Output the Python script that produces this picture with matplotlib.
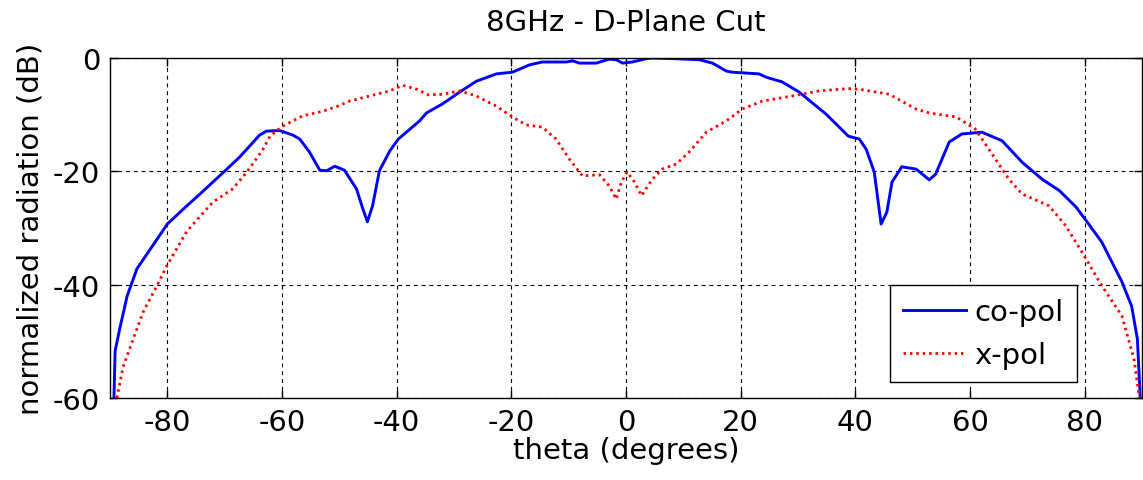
import numpy as np
import matplotlib
matplotlib.use('Agg')
import matplotlib.pyplot as plt

plt.rcParams['font.family'] = ['DejaVu Sans']
plt.rcParams['axes.unicode_minus'] = False

#! co-pol pattern (theta in degrees, level in dB)
theta_co = [-89.3, -89.1, -88.3, -87.0, -85.3, -81.8, -80.0, -76.6, -74.3, -69.6,
            -67.4, -63.9, -62.7, -60.4, -58.1, -56.9, -55.2, -53.4, -52.2, -50.8,
            -49.1, -47.0, -45.9, -45.1, -44.2, -43.0, -41.2, -39.7, -36.0, -34.8,
            -32.0, -29.0, -26.1, -22.6, -19.8, -16.8, -14.6, -10.4, -9.3, -8.1,
            -5.2, -2.9, -1.7, -0.6, 1.1, 3.6, 4.6, 8.1, 12.8, 15.1,
            17.5, 18.5, 23.2, 24.5, 27.2, 30.2, 34.9, 38.8, 40.7, 41.9,
            43.3, 44.5, 45.5, 46.4, 48.1, 50.6, 52.9, 54.0, 56.4, 58.6,
            62.1, 65.6, 69.1, 72.6, 75.6, 78.5, 80.7, 83.0, 86.5, 88.2,
            89.2, 89.7]
co_pol = [-60.0, -51.7, -47.8, -42.0, -37.2, -32.0, -29.3, -26.1, -24.0, -19.6,
          -17.5, -13.6, -12.9, -12.8, -13.6, -14.3, -16.6, -19.8, -19.9, -19.1,
          -19.8, -23.1, -26.6, -28.9, -26.1, -19.9, -16.4, -14.3, -11.1, -9.7,
          -8.1, -6.0, -4.1, -2.8, -2.5, -1.2, -0.7, -0.7, -0.5, -0.9,
          -0.9, -0.2, -0.3, -0.9, -0.7, -0.1, 0.0, -0.1, -0.3, -0.9,
          -2.3, -2.5, -2.8, -3.4, -4.2, -6.0, -9.9, -13.8, -14.3, -16.1,
          -20.1, -29.3, -27.2, -21.9, -19.2, -19.6, -21.5, -20.5, -14.8, -13.4,
          -13.1, -14.6, -18.4, -21.4, -23.4, -26.3, -29.3, -32.5, -39.5, -43.8,
          -49.6, -60.0]

#! x-pol pattern
theta_x = [-88.8, -87.7, -85.3, -84.2, -81.8, -80.1, -76.6, -73.1, -72.0, -68.6,
           -66.1, -63.3, -62.1, -60.0, -56.4, -52.9, -50.5, -48.2, -44.7, -41.2,
           -39.0, -36.5, -34.5, -32.0, -29.0, -26.1, -22.6, -19.8, -17.4, -14.6,
           -12.2, -9.9, -7.6, -4.6, -2.9, -1.7, -0.8, 0.2, 1.5, 2.7,
           4.6, 6.3, 8.8, 11.0, 14.0, 17.5, 20.3, 23.8, 29.0, 33.7,
           38.8, 40.7, 45.9, 50.6, 52.9, 57.6, 60.9, 63.3, 66.8, 69.1,
           73.8, 76.7, 79.5, 83.0, 86.5, 88.6, 89.4, 89.6]
x_pol = [-60.0, -54.5, -47.8, -44.8, -40.2, -36.7, -30.6, -26.6, -25.4, -23.1,
         -20.1, -16.1, -13.8, -12.1, -10.2, -9.4, -8.6, -7.6, -6.7, -5.8,
         -4.8, -5.5, -6.5, -6.4, -5.8, -6.7, -8.5, -10.4, -11.8, -12.2,
         -14.3, -17.8, -20.8, -20.6, -22.6, -24.9, -21.9, -20.1, -21.9, -24.3,
         -21.4, -19.6, -18.7, -16.6, -13.1, -11.1, -9.0, -7.6, -6.7, -5.8,
         -5.4, -5.5, -6.4, -9.0, -9.7, -10.4, -12.5, -16.1, -21.4, -24.0,
         -26.1, -29.6, -34.2, -40.2, -45.5, -53.1, -58.9, -60.0]

xticks = [-80, -60, -40, -20, 0, 20, 40, 60, 80]
yticks = [-60, -40, -20, 0]

FS = 21

fig = plt.figure(figsize=(11.43, 4.81), dpi=100)
ax = fig.add_axes([0.0962, 0.1705, 0.9029, 0.7068])

ax.plot(theta_co, co_pol, color='#0000ff', lw=2.1, label='co-pol')
ax.plot(theta_x, x_pol, color='#ff0000', lw=2.0, ls=(0, (0.9, 1.4)), label='x-pol')

ax.set_xlim(-90, 90)
ax.set_ylim(-60, 0)
ax.set_xticks(xticks)
ax.set_yticks(yticks)
ax.tick_params(direction='in', length=6, width=1, labelsize=FS, top=True, right=True, pad=7)
ax.grid(True, color='black', ls=(0, (3.5, 3.5)), lw=0.8)
for s in ax.spines.values():
    s.set_linewidth(1.0)

ax.set_title('8GHz - D-Plane Cut', fontsize=FS, pad=20)
ax.set_xlabel('theta (degrees)', fontsize=FS, labelpad=0)
ax.set_ylabel('normalized radiation (dB)', fontsize=FS, labelpad=6)

leg = ax.legend(loc='lower right', bbox_to_anchor=(0.937, 0.047), borderaxespad=0,
                fontsize=FS, fancybox=False, framealpha=1, edgecolor='black',
                handlelength=2.15, handletextpad=0.3, borderpad=0.45, labelspacing=0.5)
leg.get_frame().set_linewidth(1.0)

fig.savefig('out.png', dpi=100)
